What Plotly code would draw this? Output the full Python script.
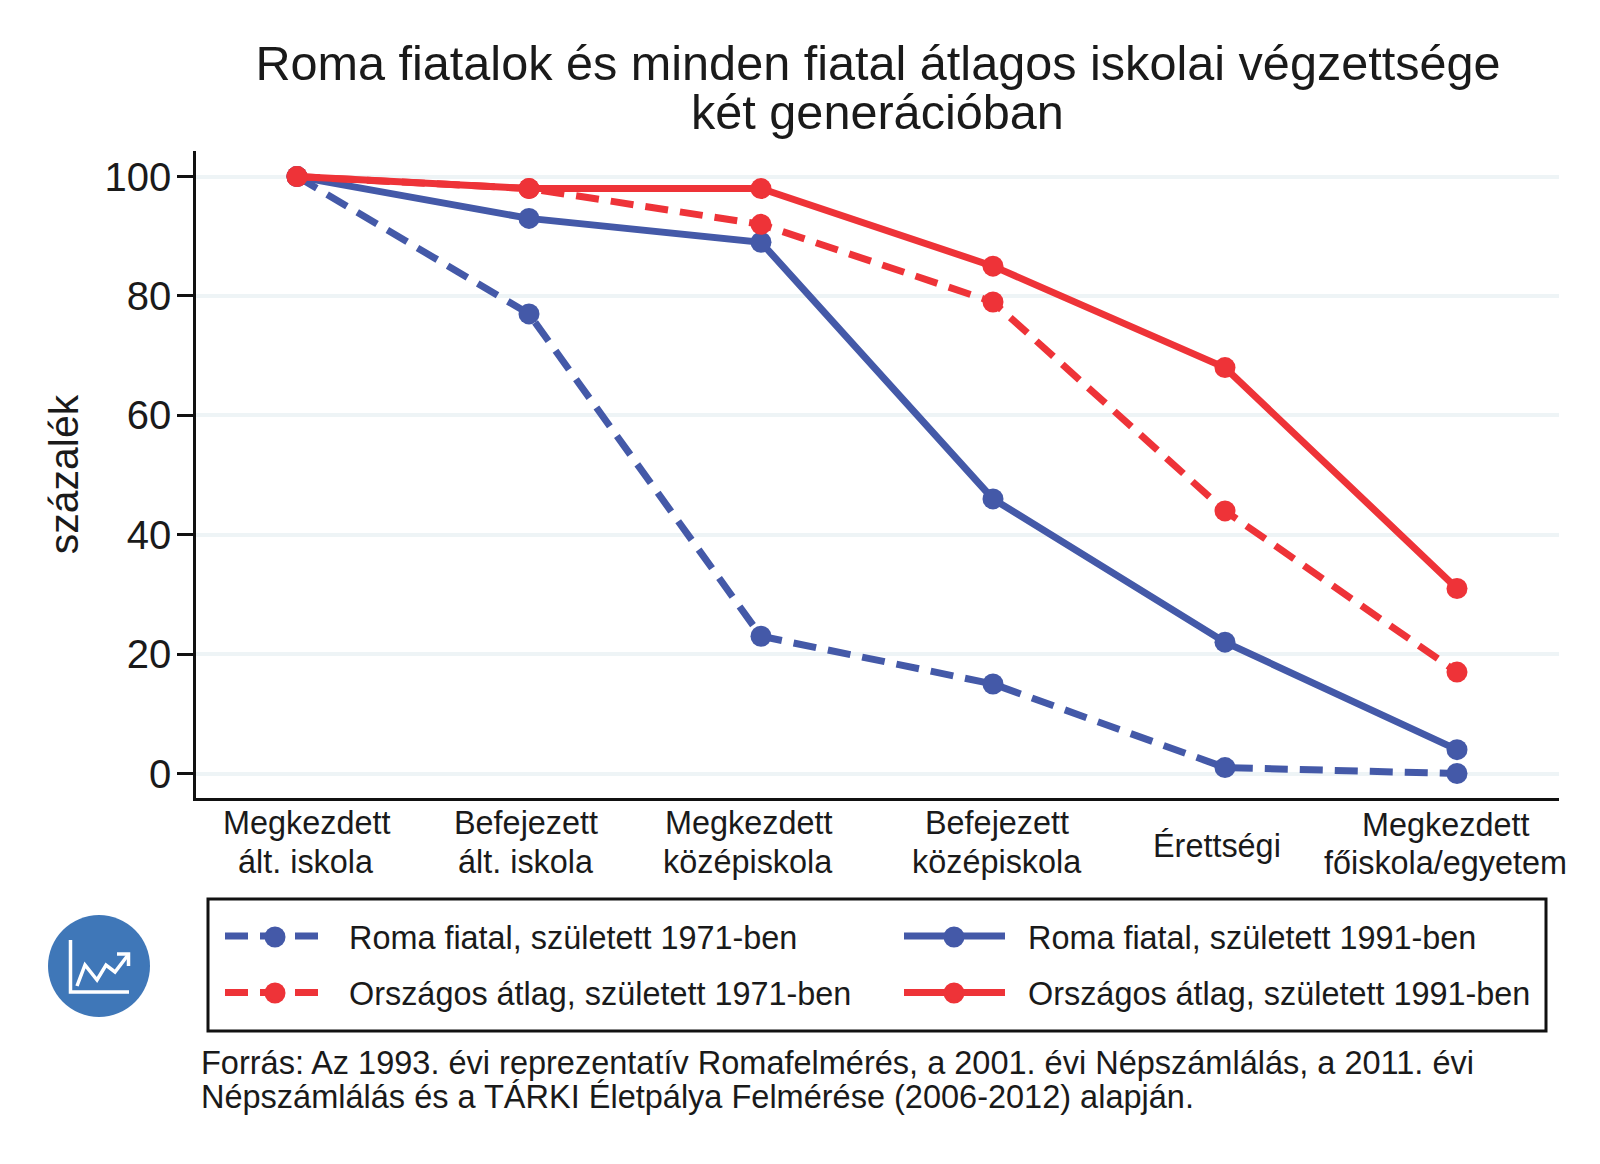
import plotly.graph_objects as go

W, H = 1600, 1164
CATEGORIES = [["Megkezdett", "ált. iskola"], ["Befejezett", "ált. iskola"], ["Megkezdett", "középiskola"],
              ["Befejezett", "középiskola"], ["Érettségi"], ["Megkezdett", "főiskola/egyetem"]]
LABEL_CX = [306, 525.5, 748, 997, 1217, 1445]
LABEL_CY = [[822.5, 861.5], [822.5, 861.5], [822.5, 861.5], [822.5, 861.5], [846], [824.5, 863]]
X = [0, 1, 2, 3, 4, 5]
ROMA_1971 = [100, 77, 23, 15, 1, 0]
ROMA_1991 = [100, 93, 89, 46, 22, 4]
ORSZ_1971 = [100, 98, 92, 79, 44, 17]
ORSZ_1991 = [100, 98, 98, 85, 68, 31]
Y_TICKS = [0, 20, 40, 60, 80, 100]
BLUE, RED = "#4459A8", "#EE3338"
FONT = "Liberation Sans"
INK = "#1a1a1a"

L, R, T, B = 196, 1559, 151, 798

def px(x): return (x - L) / (R - L)
def py(y): return (B - y) / (B - T)

fig = go.Figure()
series = [("Roma fiatal, született 1971-ben", ROMA_1971, BLUE, "23px,12px", "legend"),
          ("Roma fiatal, született 1991-ben", ROMA_1991, BLUE, "solid", "legend"),
          ("Országos átlag, született 1971-ben", ORSZ_1971, RED, "23px,12px", "legend2"),
          ("Országos átlag, született 1991-ben", ORSZ_1991, RED, "solid", "legend2")]
for name, vals, col, dash, lg in series:
    fig.add_trace(go.Scatter(x=X, y=vals, name="\u00a0\u00a0" + name, mode="lines+markers", legend=lg,
                             line=dict(color=col, width=7, dash=dash),
                             marker=dict(color=col, size=21, line=dict(width=0))))

ann = []
for lines, cx, cys in zip(CATEGORIES, LABEL_CX, LABEL_CY):
    for line, cy in zip(lines, cys):
        ann.append(dict(text=line, x=px(cx), y=py(cy), xref="paper", yref="paper", xanchor="center", yanchor="middle",
                        showarrow=False, font=dict(family=FONT, size=32.4, color=INK)))
ann.append(dict(text="két generációban", x=px(877.5), y=py(112), xref="paper", yref="paper", xanchor="center",
                yanchor="middle", showarrow=False, font=dict(family=FONT, size=48.6, color=INK)))
for t, yy in [("Forrás: Az 1993. évi reprezentatív Romafelmérés, a 2001. évi Népszámlálás, a 2011. évi", 1063),
              ("Népszámlálás és a TÁRKI Életpálya Felmérése (2006-2012) alapján.", 1096.5)]:
    ann.append(dict(text=t, x=px(199), y=py(yy), xref="paper", yref="paper", xanchor="left", yanchor="middle",
                    showarrow=False, font=dict(family=FONT, size=32.5, color=INK)))

def rect(x0, y0, x1, y1, **k):
    return dict(type=k.pop("type", "rect"), xref="paper", yref="paper", x0=px(x0), x1=px(x1), y0=py(y0), y1=py(y1), **k)

def path(points):
    return "M" + "L".join(f"{px(a):.5f},{py(b):.5f}" for a, b in points)

def dot(cx, cy, col):
    return rect(cx - 10.5, cy - 10.5, cx + 10.5, cy + 10.5, type="circle", fillcolor=col, line=dict(width=0))

white = dict(color="white", width=3.5)
shapes = [rect(208, 899, 1546, 1031, line=dict(color="#111111", width=3), fillcolor="rgba(0,0,0,0)"),
          rect(48, 915, 150, 1017, type="circle", fillcolor="#3F77B8", line=dict(width=0)),
          dict(type="path", xref="paper", yref="paper", line=white, path=path([(70.5, 940), (70.5, 992), (129, 992)])),
          dict(type="path", xref="paper", yref="paper", line=white,
               path=path([(77, 986), (85, 965), (97, 980), (106, 965), (115, 972), (128, 955)])),
          dict(type="path", xref="paper", yref="paper", line=white, path=path([(117, 954), (128.5, 954), (128.5, 966)])),
          dot(275, 937, BLUE), dot(275, 993, RED), dot(954, 937, BLUE), dot(954, 993, RED)]

lg = dict(orientation="h", xanchor="left", yanchor="middle", itemwidth=101, entrywidth=563, entrywidthmode="pixels",
          font=dict(family=FONT, size=32.4, color=INK), bgcolor="rgba(0,0,0,0)")

fig.update_layout(
    width=W, height=H, paper_bgcolor="white", plot_bgcolor="white",
    margin=dict(l=L, r=W - R, t=T, b=H - B, autoexpand=False),
    font=dict(family=FONT, color=INK),
    title=dict(text="Roma fiatalok és minden fiatal átlagos iskolai végzettsége", x=878 / W, xanchor="center",
               y=1 - 63 / H, yanchor="middle", font=dict(family=FONT, size=48.6, color=INK)),
    xaxis=dict(range=[-0.4353, 5.4397], showgrid=False, zeroline=False, showticklabels=False, ticks="",
               showline=True, linecolor="#111111", linewidth=2.5),
    yaxis=dict(range=[-4.10, 104.29], tickvals=Y_TICKS, showgrid=True, gridcolor="#EEF4F6", gridwidth=4, zeroline=False,
               showline=True, linecolor="#111111", linewidth=2.5, ticks="outside", ticklen=16, tickwidth=2.5,
               tickcolor="#111111", tickfont=dict(family=FONT, size=40, color=INK), ticklabelstandoff=-2,
               title=dict(text="százalék", font=dict(family=FONT, size=41, color=INK), standoff=14)),
    legend=dict(x=px(220), y=py(936.5), **lg),
    legend2=dict(x=px(220), y=py(993), **lg),
    annotations=ann, shapes=shapes, showlegend=True,
)
fig.write_html("out.html", post_script="document.body.style.margin='0';", config=dict(displayModeBar=False))
